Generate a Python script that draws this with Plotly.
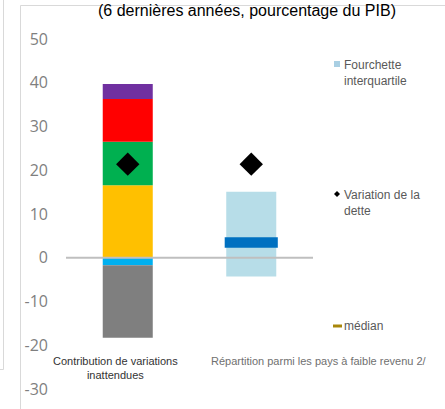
import numpy as np
import plotly.graph_objects as go

W, H = 445, 409

# Categories along the x axis
categories = ["Contribution de variations<br>inattendues",
              "Répartition parmi les pays à faible revenu 2/"]

# Stacked contributions for the first category (percent of GDP)
pos_values = [16.6, 9.9, 9.8, 3.4]
pos_colors = ["#FFC000", "#00B050", "#FF0000", "#7030A0"]
neg_values = [-1.7, -16.6]
neg_colors = ["#00B0F0", "#7F7F7F"]

# Change in debt shown for both categories
debt_change = [21.4, 21.4]

# Distribution among low-income countries
iqr_low, iqr_high = -4.3, 15.1
median_value = 3.5

# Y axis ticks
y_ticks = [-30, -20, -10, 0, 10, 20, 30, 40, 50]
y_tick_text = ["-30", "-20", "-10", "0", "10", "20", "30", "40", "50"]

title_text = "(6 dernières années, pourcentage du PIB)"
legend_labels = ["Fourchette<br>interquartile", "Variation de la<br>dette", "médian"]


def px(x):
    return x / W


def py(y):
    return 1 - y / H


fig = go.Figure()

cat0, cat1 = 0, 1
bar_w = 0.405

pos_bases = np.concatenate([[0], np.cumsum(pos_values)[:-1]])
for v, b, c in zip(pos_values, pos_bases, pos_colors):
    fig.add_trace(go.Bar(x=[cat0], y=[v], base=[b], width=bar_w,
                         marker=dict(color=c, line=dict(width=0)), showlegend=False))

neg_bases = np.concatenate([[0], np.cumsum(neg_values)[:-1]])
for v, b, c in zip(neg_values, neg_bases, neg_colors):
    fig.add_trace(go.Bar(x=[cat0], y=[v], base=[b], width=bar_w,
                         marker=dict(color=c, line=dict(width=0)), showlegend=False))

# Interquartile range box
fig.add_trace(go.Bar(x=[cat1], y=[iqr_high - iqr_low], base=[iqr_low], width=bar_w,
                     marker=dict(color="#B7DDE8", line=dict(width=0)), showlegend=False))

# Median band
median_thickness = 2.4
fig.add_trace(go.Bar(x=[cat1], y=[median_thickness], base=[median_value - median_thickness / 2],
                     width=0.43, marker=dict(color="#0070C0", line=dict(width=0)),
                     showlegend=False))

# Debt change markers
fig.add_trace(go.Scatter(x=[cat0, cat1], y=debt_change, mode="markers",
                         marker=dict(symbol="diamond", size=18, color="black",
                                     line=dict(width=0)),
                         showlegend=False))

shapes = []
# zero line drawn over the bars
shapes.append(dict(type="line", xref="x domain", yref="y", x0=0, x1=1, y0=0, y1=0,
                   line=dict(color="#BFBFBF", width=2), layer="above"))
# chart frame lines
frame = dict(color="#D9D9D9", width=1)
shapes.append(dict(type="line", xref="paper", yref="paper", x0=px(20.5), x1=px(20.5),
                   y0=py(5.5), y1=py(409), line=frame))
shapes.append(dict(type="line", xref="paper", yref="paper", x0=px(20.5), x1=px(445),
                   y0=py(5.5), y1=py(5.5), line=frame))
shapes.append(dict(type="line", xref="paper", yref="paper", x0=px(3.5), x1=px(3.5),
                   y0=py(0), y1=py(369.5), line=frame))
shapes.append(dict(type="line", xref="paper", yref="paper", x0=px(0), x1=px(3.5),
                   y0=py(369.5), y1=py(369.5), line=frame))
# legend symbols
shapes.append(dict(type="rect", xref="paper", yref="paper", x0=px(334), x1=px(340),
                   y0=py(61), y1=py(67), fillcolor="#A9CFE3", line=dict(width=0)))
cx, cy, r = 337, 194, 3
shapes.append(dict(type="path", xref="paper", yref="paper",
                   path=f"M {px(cx)},{py(cy - r)} L {px(cx + r)},{py(cy)} "
                        f"L {px(cx)},{py(cy + r)} L {px(cx - r)},{py(cy)} Z",
                   fillcolor="black", line=dict(width=0)))
shapes.append(dict(type="rect", xref="paper", yref="paper", x0=px(333), x1=px(342),
                   y0=py(324.5), y1=py(327.5), fillcolor="#A8870A", line=dict(width=0)))

annotations = []
annotations.append(dict(text=title_text, xref="paper", yref="paper", x=px(96), y=1,
                        xanchor="left", yanchor="top", showarrow=False,
                        font=dict(family="Liberation Sans, Arial", size=16, color="black")))
# category labels
annotations.append(dict(text=categories[0], xref="paper", yref="paper", x=px(115), y=py(353),
                        xanchor="center", yanchor="top", showarrow=False, align="center",
                        font=dict(family="Liberation Sans, Arial", size=11, color="#333333")))
annotations.append(dict(text=categories[1], xref="paper", yref="paper", x=px(319), y=py(353),
                        xanchor="center", yanchor="top", showarrow=False,
                        font=dict(family="Liberation Sans, Arial", size=11, color="#707070")))
# legend labels
leg_font = dict(family="Liberation Sans, Arial", size=12, color="#595959")
annotations.append(dict(text=legend_labels[0], xref="paper", yref="paper", x=px(342), y=py(56),
                        xanchor="left", yanchor="top", showarrow=False, align="left",
                        font=leg_font))
annotations.append(dict(text=legend_labels[1], xref="paper", yref="paper", x=px(342), y=py(186),
                        xanchor="left", yanchor="top", showarrow=False, align="left",
                        font=leg_font))
annotations.append(dict(text=legend_labels[2], xref="paper", yref="paper", x=px(342), y=py(326),
                        xanchor="left", yanchor="middle", showarrow=False, align="left",
                        font=leg_font))

fig.update_layout(
    width=W, height=H,
    margin=dict(l=0, r=0, t=0, b=0),
    paper_bgcolor="white", plot_bgcolor="white",
    barmode="overlay",
    showlegend=False,
    shapes=shapes,
    annotations=annotations,
    xaxis=dict(domain=[px(66), px(313)], range=[-0.5, 1.5], showticklabels=False,
               showgrid=False, zeroline=False, showline=False, ticks="", automargin=False),
    yaxis=dict(domain=[py(389), py(39)], range=[-30, 50], tickvals=y_ticks,
               ticktext=y_tick_text, showgrid=False, zeroline=False, showline=False,
               ticks="", ticklabelstandoff=17, automargin=False,
               tickfont=dict(family="Open Sans", size=16, color="#7F7F7F")),
)

fig.write_html("out.html")
